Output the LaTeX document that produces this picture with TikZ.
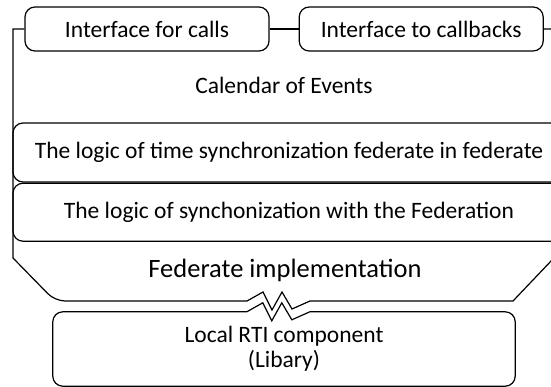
\documentclass[tikz,border=0pt]{standalone}
\usepackage{fontspec}
\setmainfont{Carlito}
\usetikzlibrary{positioning}
\providecommand{\Break}{
-- ++(16,-9) -- ++(9,18) -- ++(10,-18) -- ++(10,17) -- ++(18,-8)
}
\tikzset{
edge/.style={line width=1.2pt},
iface/.style={edge,draw,rounded corners=10pt,minimum width=244pt,minimum height=44pt,inner sep=0pt},
layer/.style={edge,draw,rounded corners=10pt,minimum width=552pt,minimum height=58pt,inner sep=0pt},
txt/.style={inner sep=0pt}
}
\begin{document}
\begin{tikzpicture}[x=1pt,y=-1pt,font=\fontsize{23.5}{25}\selectfont]
\useasboundingbox (0,0) rectangle (551,387);
\clip (0,0) rectangle (551,387);
\node[iface] (calls) at (147,29) {Interface for calls};
\node[iface,right=29pt of calls] (callbacks) {Interface to callbacks};
\node[txt] (calendar) at (284,85) {Calendar of Events};
\node[layer,minimum height=59pt] (timesync) at (289,152.5) {The logic of time synchronization federate in federate};
\node[layer,below=0pt of timesync] (fedsync) {The logic of synchonization with the Federation};
\node[txt,font=\fontsize{26.5}{30}\selectfont] (fedimpl) at (285,270) {Federate implementation};
\node[align=center,minimum width=462pt,minimum height=74pt] (rti) at (284,349) {Local RTI component\\(Libary)};
\draw[edge] (calls) -- (callbacks);
\draw[edge] (calls.west) -- (13,29) -- (13,258) [rounded corners=10pt] -- (55,301) [sharp corners] -- (247,301) \Break -- (513,301) [rounded corners=10pt] -- (552,260) -- (562,249.5) [sharp corners] -- (562,29) -- (callbacks.east);
\draw[edge] ([xshift=194pt]rti.north west) \Break [rounded corners=10pt] -- (rti.north east) -- (rti.south east) -- (rti.south west) -- (rti.north west) -- ([xshift=194pt]rti.north west);
\end{tikzpicture}
\end{document}
